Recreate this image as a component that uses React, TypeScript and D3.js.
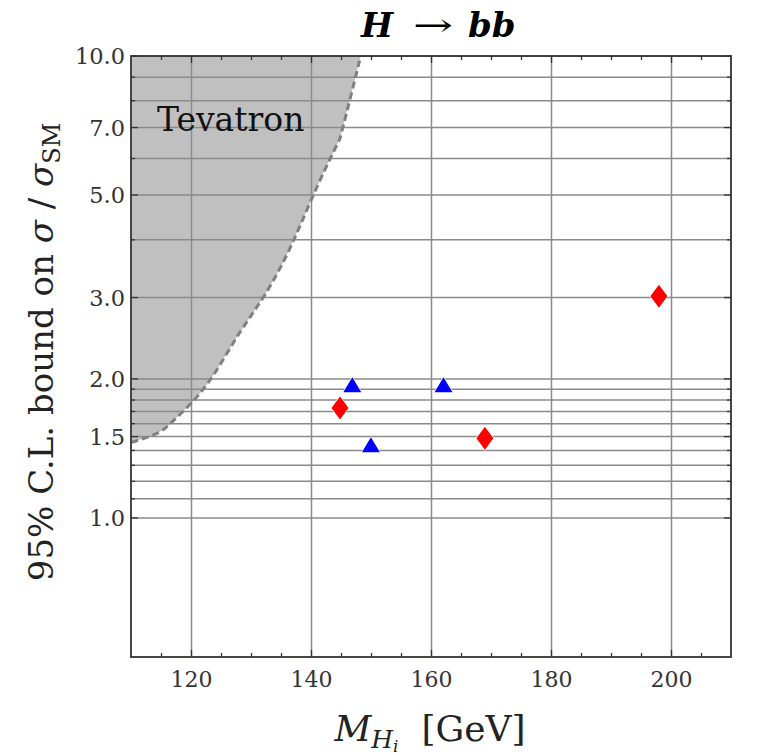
import React from "react";
import * as d3 from "d3";

// Tevatron exclusion boundary (mass in GeV, 95% C.L. bound on sigma/sigma_SM)
const tevatronMass = [110, 111.9, 115, 117, 120, 123.6, 128.1, 132.25, 136.7, 140.3, 144.75, 144.75, 144.75, 146.4, 148.2];
const tevatronBound = [1.458, 1.483, 1.533, 1.625, 1.767, 2.01, 2.55, 3.01, 3.86, 5.04, 6.63, 6.63, 6.63, 8.03, 10];

// Benchmark points
const triangleMass = [146.8, 162.0, 149.9];
const triangleBound = [1.942, 1.942, 1.44];
const diamondMass = [144.75, 168.9, 197.9];
const diamondBound = [1.729, 1.488, 3.02];

// Axis ticks
const xMajorTicks = [120, 140, 160, 180, 200];
const xMinorTicks = [115, 125, 130, 135, 145, 150, 155, 165, 170, 175, 185, 190, 195, 205];
const yMajorTicks = [1.0, 1.5, 2.0, 3.0, 5.0, 7.0, 10.0];
const yMinorTicks = [1.1, 1.2, 1.3, 1.4, 1.6, 1.7, 1.8, 1.9, 4.0, 6.0, 8.0, 9.0];
const yGridLines = [1.0, 1.1, 1.2, 1.3, 1.4, 1.5, 1.6, 1.7, 1.8, 1.9, 2.0, 3.0, 4.0, 5.0, 6.0, 7.0, 8.0, 9.0, 10.0];

const W = 782;
const H = 755;
const left = 131;
const right = 731;
const top = 56;
const bottom = 657;

const FONT = "'DejaVu Serif', serif";

export default function App() {
  const x = d3.scaleLinear().domain([110, 210]).range([left + 0.5, right + 0.5]);
  const y = d3.scaleLog().domain([0.5, 10]).range([bottom, top]);

  const boundaryPts: [number, number][] = tevatronMass.map((m, i) => [x(m), y(tevatronBound[i])]);
  const boundaryLine = d3.line().curve(d3.curveBasis)(boundaryPts) as string;
  const regionPath = boundaryLine + `L${x(110)},${y(10)}Z`;

  const triSym = (cx: number, cy: number) => {
    const w = 18, h = 15;
    return `M${cx - w / 2},${cy + h / 2}L${cx + w / 2},${cy + h / 2}L${cx},${cy - h / 2}Z`;
  };
  const diaSym = (cx: number, cy: number) => {
    const w = 17, h = 23;
    return `M${cx},${cy - h / 2}L${cx + w / 2},${cy}L${cx},${cy + h / 2}L${cx - w / 2},${cy}Z`;
  };

  const fmt = d3.format(".1f");

  return (
    <svg width={W} height={H} style={{ display: "block", position: "absolute", left: 0, top: 0 }}>
      <rect x={0} y={0} width={W} height={H} fill="#fff" />
      <defs>
        <clipPath id="plotArea">
          <rect x={left} y={top} width={right - left} height={bottom - top} />
        </clipPath>
      </defs>

      <g clipPath="url(#plotArea)">
        {/* excluded region */}
        <path d={regionPath} fill="#c0c0c0" stroke="none" />

        {/* grid */}
        {xMajorTicks.map((v) => (
          <line key={"gx" + v} x1={x(v)} x2={x(v)} y1={top} y2={bottom} stroke="#8a8a8a" strokeWidth={1.5} />
        ))}
        {yGridLines.map((v) => (
          <line key={"gy" + v} x1={left} x2={right} y1={y(v)} y2={y(v)} stroke="#8a8a8a" strokeWidth={1.5} />
        ))}

        {/* boundary */}
        <path d={boundaryLine} fill="none" stroke="#808080" strokeWidth={3} strokeDasharray="7 4" />

        {/* markers */}
        {triangleMass.map((m, i) => (
          <path key={"t" + i} d={triSym(x(m), y(triangleBound[i]))} fill="#0000ff" stroke="#fff" strokeWidth={1.4} strokeLinejoin="round" paintOrder="stroke" />
        ))}
        {diamondMass.map((m, i) => (
          <path key={"d" + i} d={diaSym(x(m), y(diamondBound[i]))} fill="#ff0000" stroke="#fff" strokeWidth={1.4} strokeLinejoin="round" paintOrder="stroke" />
        ))}
      </g>

      <text x={157} y={131} fontFamily={FONT} fontSize={33} fill="#111">Tevatron</text>

      {/* ticks */}
      <g stroke="#333" strokeWidth={1.3}>
        {xMajorTicks.map((v) => (
          <g key={"xt" + v}>
            <line x1={x(v)} x2={x(v)} y1={bottom} y2={bottom - 7} />
            <line x1={x(v)} x2={x(v)} y1={top} y2={top + 7} />
          </g>
        ))}
        {xMinorTicks.map((v) => (
          <g key={"xm" + v}>
            <line x1={x(v)} x2={x(v)} y1={bottom} y2={bottom - 4} />
            <line x1={x(v)} x2={x(v)} y1={top} y2={top + 4} />
          </g>
        ))}
        {yMajorTicks.map((v) => (
          <g key={"yt" + v}>
            <line x1={left} x2={left + 7} y1={y(v)} y2={y(v)} />
            <line x1={right} x2={right - 7} y1={y(v)} y2={y(v)} />
          </g>
        ))}
        {yMinorTicks.map((v) => (
          <g key={"ym" + v}>
            <line x1={left} x2={left + 4} y1={y(v)} y2={y(v)} />
            <line x1={right} x2={right - 4} y1={y(v)} y2={y(v)} />
          </g>
        ))}
      </g>

      {/* frame */}
      <rect x={left} y={top} width={right - left} height={bottom - top} fill="none" stroke="#333" strokeWidth={1.8} />

      {/* tick labels */}
      {xMajorTicks.map((v) => (
        <text key={"xl" + v} x={x(v)} y={687} textAnchor="middle" fontFamily={FONT} fontSize={22} fill="#333">
          {v}
        </text>
      ))}
      {yMajorTicks.map((v) => (
        <text key={"yl" + v} x={125} y={y(v) + 8} textAnchor="end" fontFamily={FONT} fontSize={22.5} fill="#333">
          {fmt(v)}
        </text>
      ))}

      {/* title */}
      <g fontFamily={FONT} fill="#000">
        <text x={361} y={37} fontSize={34} fontWeight="bold" fontStyle="italic">H</text>
        <text x={413} y={36} fontSize={32} textLength={40} lengthAdjust="spacingAndGlyphs">→</text>
        <text x={468} y={37} fontSize={34} fontWeight="bold" fontStyle="italic">bb</text>
      </g>

      {/* x label */}
      <text x={430} y={741} textAnchor="middle" fontFamily={FONT} fontSize={36} fill="#222">
        <tspan fontStyle="italic">M</tspan>
        <tspan fontStyle="italic" fontSize={25} dy={7}>H</tspan>
        <tspan fontStyle="italic" fontSize={17} dy={4}>i</tspan>
        <tspan dy={-11} xmlSpace="preserve">{"\u00a0\u00a0[GeV]"}</tspan>
      </text>

      {/* y label */}
      <text transform={`translate(53,352) rotate(-90)`} textAnchor="middle" fontFamily={FONT} fontSize={34} fill="#222">
        <tspan>95% C.L. bound on </tspan>
        <tspan fontStyle="italic">σ</tspan>
        <tspan> / </tspan>
        <tspan fontStyle="italic">σ</tspan>
        <tspan fontSize={24} dy={7}>SM</tspan>
      </text>
    </svg>
  );
}
